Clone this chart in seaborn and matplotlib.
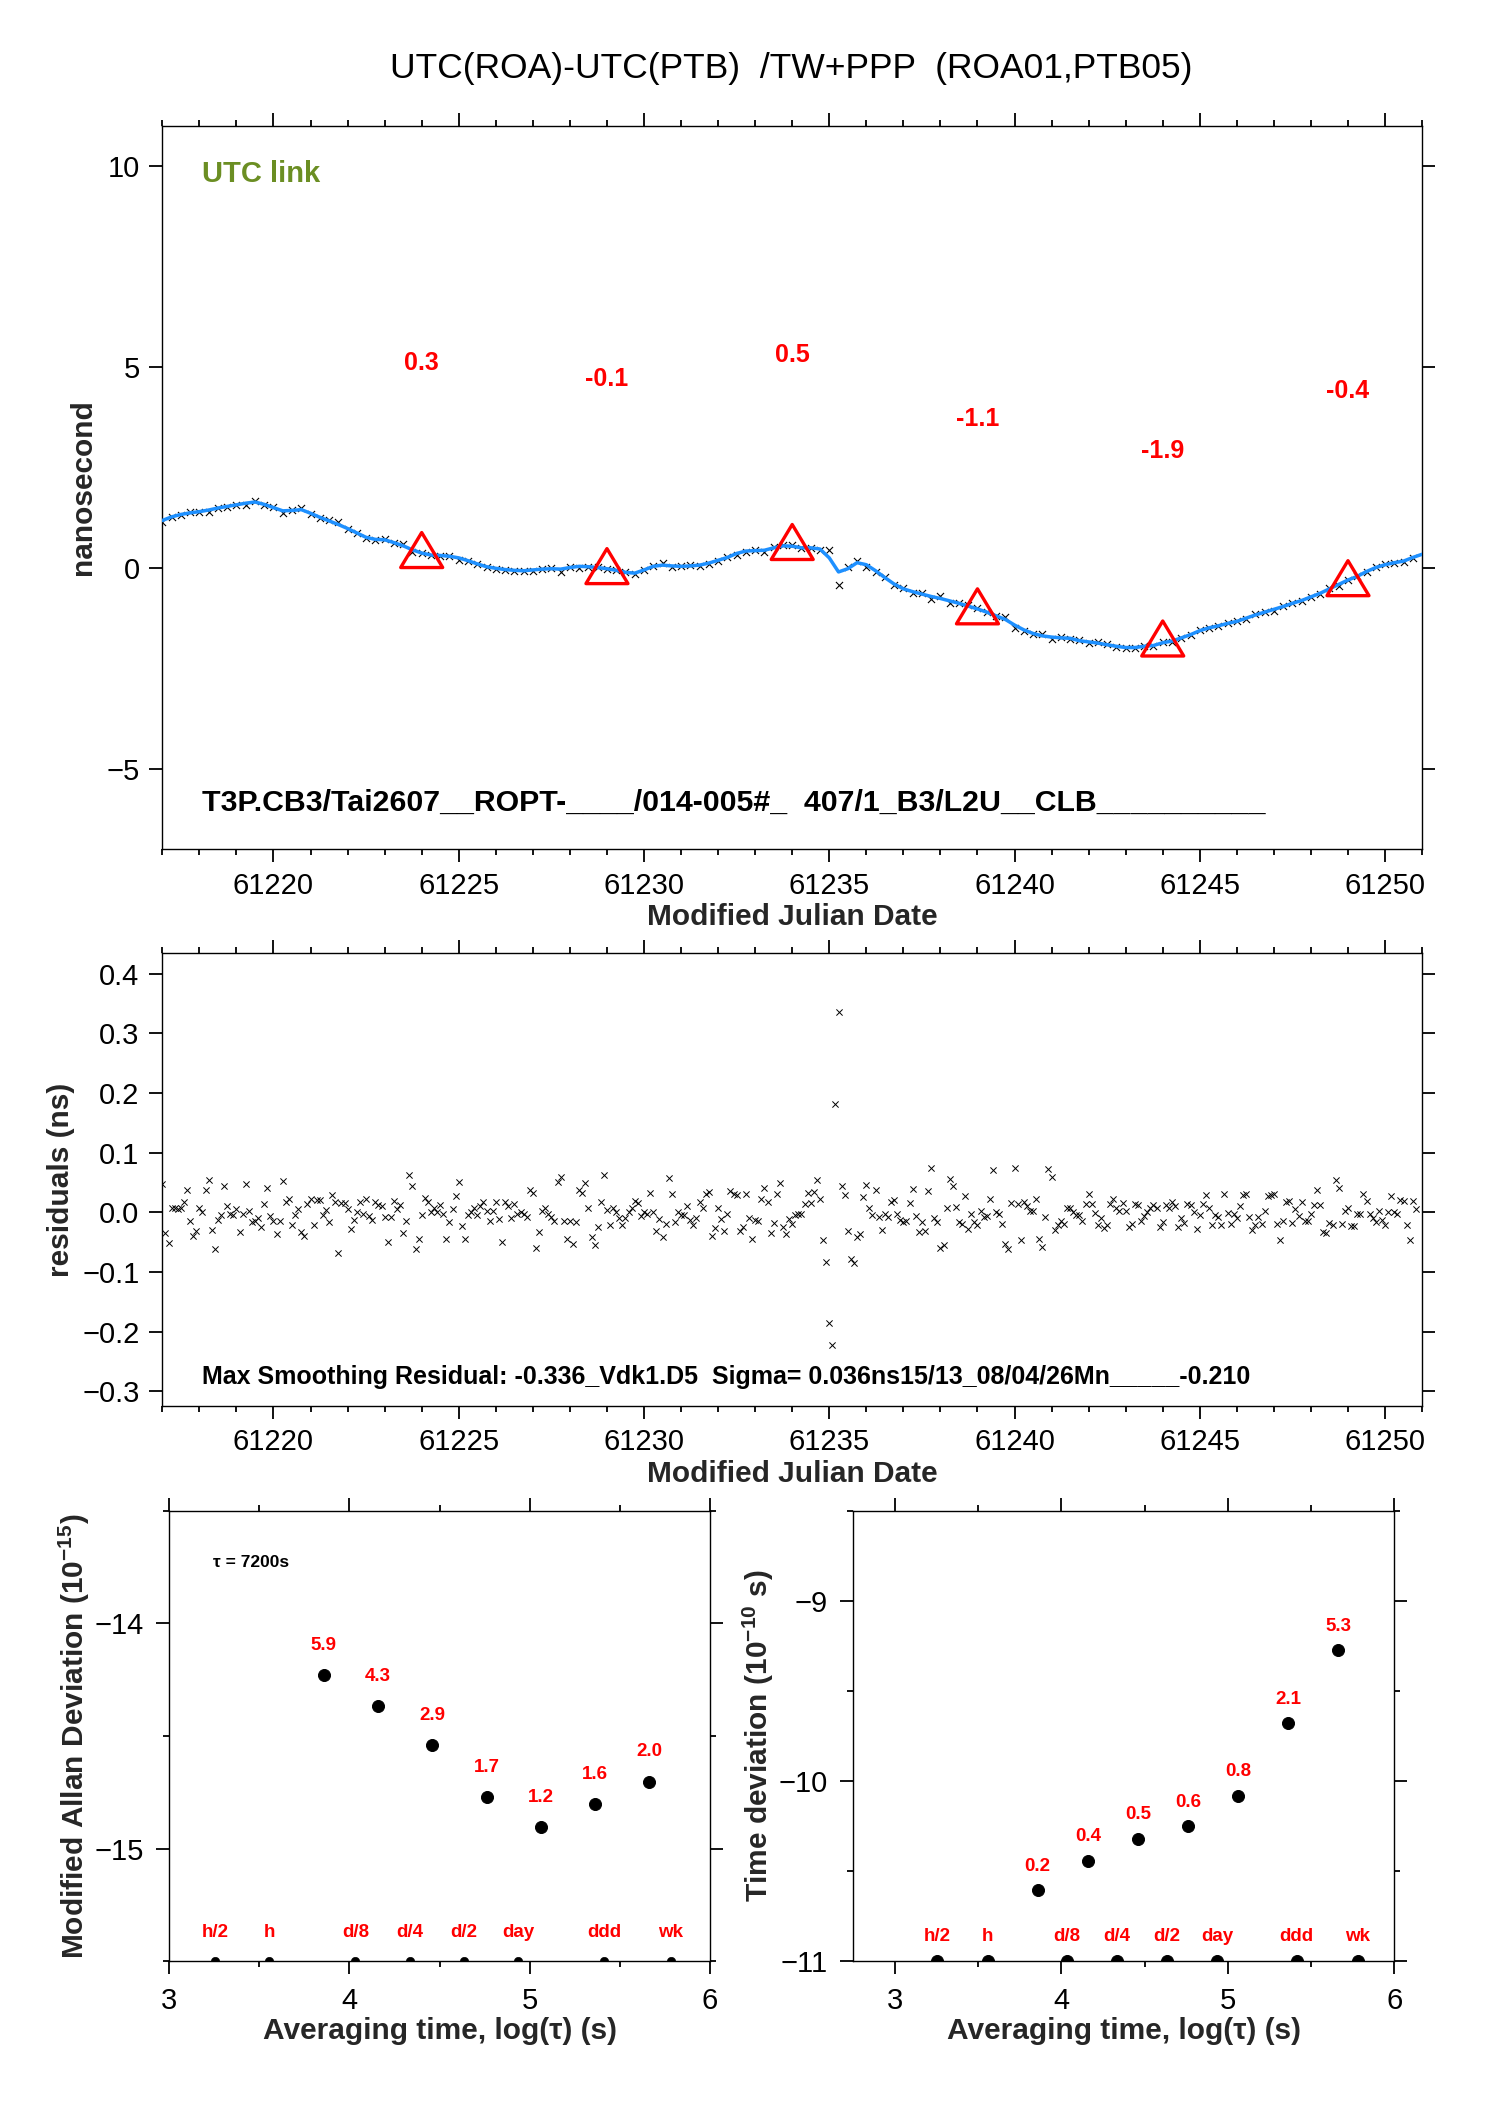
import numpy as np
import pandas as pd
import matplotlib
matplotlib.use("Agg")
import matplotlib.pyplot as plt
from matplotlib.path import Path
from matplotlib.markers import MarkerStyle
from matplotlib.ticker import MultipleLocator
import seaborn as sns

# ---------------- data ----------------
title_text = "UTC(ROA)-UTC(PTB)  /TW+PPP  (ROA01,PTB05)"
link_text = "UTC link"
info_text = "T3P.CB3/Tai2607__ROPT-____/014-005#_  407/1_B3/L2U__CLB__________"
resid_text = "Max Smoothing Residual: -0.336_Vdk1.D5  Sigma= 0.036ns15/13_08/04/26Mn_____-0.210"

mjd_start = 61217.0
smooth_step = 0.25          # days between curve nodes
resid_step = 1.0 / 12.0     # 2-hour epochs

smooth_ns = [
    1.18, 1.27, 1.33, 1.37, 1.40, 1.44, 1.49, 1.53, 1.57, 1.61, 1.64, 1.58,
    1.50, 1.42, 1.43, 1.45, 1.36, 1.26, 1.17, 1.08, 0.98, 0.87, 0.76, 0.71,
    0.70, 0.63, 0.55, 0.45, 0.37, 0.32, 0.31, 0.29, 0.25, 0.18, 0.10, 0.03,
    -0.01, -0.04, -0.06, -0.07, -0.05, -0.03, -0.02, -0.03, 0.01, 0.04, 0.03, 0.01,
    -0.02, -0.06, -0.11, -0.13, -0.05, 0.04, 0.07, 0.05, 0.04, 0.05, 0.07, 0.12,
    0.19, 0.26, 0.36, 0.42, 0.43, 0.44, 0.50, 0.55, 0.54, 0.50, 0.50, 0.47,
    0.25, -0.10, -0.02, 0.13, 0.08, -0.07, -0.24, -0.40, -0.52, -0.59, -0.65, -0.71,
    -0.76, -0.82, -0.88, -0.95, -1.02, -1.10, -1.19, -1.28, -1.42, -1.54, -1.63, -1.69,
    -1.72, -1.74, -1.75, -1.81, -1.84, -1.87, -1.91, -1.95, -1.98, -1.98, -1.95, -1.93,
    -1.86, -1.82, -1.74, -1.66, -1.56, -1.49, -1.44, -1.38, -1.33, -1.25, -1.17, -1.10,
    -1.03, -0.96, -0.88, -0.81, -0.72, -0.63, -0.52, -0.41, -0.30, -0.21, -0.09, 0.01,
    0.08, 0.13, 0.17, 0.26, 0.34,
]

resid_ns = [
    0.047, -0.034, -0.051, 0.008, 0.008, 0.006, 0.008, 0.017, 0.038, -0.014,
    -0.040, -0.031, 0.007, 0.001, 0.037, 0.055, -0.030, -0.062, -0.013, -0.005,
    0.045, 0.010, -0.003, -0.005, 0.006, -0.033, -0.002, 0.048, 0.002, -0.016,
    -0.014, -0.010, -0.024, 0.014, 0.040, -0.006, -0.014, -0.036, -0.015, 0.053,
    0.018, 0.022, -0.022, -0.004, 0.006, -0.033, -0.039, 0.014, 0.023, -0.021,
    0.020, 0.020, -0.005, 0.004, -0.016, 0.029, 0.018, -0.068, 0.015, 0.016,
    0.006, -0.028, -0.013, 0.000, 0.018, -0.003, 0.023, -0.006, -0.012, 0.017,
    0.012, 0.010, -0.008, -0.050, -0.008, 0.019, 0.006, 0.013, -0.034, -0.014,
    0.063, 0.045, -0.062, -0.045, -0.005, 0.024, 0.018, 0.001, 0.008, 0.000,
    0.012, -0.002, -0.045, -0.016, 0.006, 0.027, 0.051, -0.023, -0.044, -0.004,
    0.001, 0.007, -0.004, 0.011, 0.018, 0.003, -0.014, 0.003, 0.018, -0.011,
    -0.050, 0.017, 0.010, -0.010, 0.014, -0.002, 0.001, -0.002, -0.007, 0.037,
    0.033, -0.060, -0.033, 0.002, 0.007, -0.002, -0.008, -0.014, 0.051, 0.059,
    -0.014, -0.045, -0.014, -0.053, -0.016, 0.037, 0.032, 0.050, 0.008, -0.042,
    -0.054, -0.025, 0.017, 0.063, 0.004, -0.022, 0.007, 0.001, -0.009, -0.021,
    -0.009, 0.000, 0.007, 0.019, 0.015, -0.006, 0.000, -0.002, 0.032, 0.001,
    -0.032, -0.011, -0.041, -0.020, 0.058, 0.031, -0.016, 0.000, -0.005, -0.005,
    0.010, -0.012, -0.022, -0.010, 0.018, 0.007, 0.031, 0.034, -0.039, -0.027,
    0.007, -0.011, -0.031, -0.003, 0.035, 0.031, 0.029, -0.031, -0.024, 0.031,
    -0.009, -0.045, -0.012, -0.014, 0.023, 0.041, 0.018, -0.035, -0.018, 0.030,
    0.050, -0.025, -0.037, -0.011, -0.020, -0.005, -0.003,
    -0.002, 0.014, 0.033, 0.016, 0.034, 0.054, 0.022, -0.047, -0.084, -0.185,
    -0.223, 0.181, 0.335, 0.044, 0.029, -0.031, -0.078, -0.085, -0.041, -0.036,
    0.025, 0.046, 0.007, -0.005, 0.038, -0.008, -0.030, -0.003, -0.008, 0.018,
    0.020, -0.002, -0.012, -0.016, -0.014, 0.016, 0.039, -0.006, -0.033, -0.016,
    -0.031, 0.035, 0.074, -0.010, -0.016, -0.060, -0.054, 0.007, 0.056, 0.044,
    0.009, -0.016, -0.019, 0.027, -0.028, -0.002, -0.016, -0.021, 0.002, -0.007,
    -0.006, 0.023, 0.071, 0.000, -0.002, -0.019, -0.053, -0.061, 0.016, 0.075,
    0.014, -0.047, 0.018, 0.010, 0.003, 0.003, 0.022, -0.044, -0.058, -0.008,
    0.073, 0.059, -0.030, -0.021, -0.015, -0.020, 0.008, 0.008, 0.000, -0.005,
    -0.005, -0.014, 0.014, 0.031, 0.014, -0.001, -0.021, -0.010, -0.027, -0.021,
    0.014, 0.023, 0.007, 0.003, 0.016, 0.002, -0.024, -0.020, 0.014, 0.013,
    -0.014, -0.006, 0.001, 0.008, 0.012, 0.008, -0.025, -0.016, 0.012, 0.008,
    0.018, 0.010, -0.024, -0.009, -0.018, 0.014, 0.012, 0.001, -0.028, -0.004,
    0.014, 0.029, 0.007, -0.022, -0.005, -0.008, -0.021, 0.031, -0.001, -0.020,
    -0.002, -0.010, 0.010, 0.029, 0.031, -0.007, -0.029, -0.021, -0.007, -0.020,
    0.002, 0.028, 0.029, 0.030, -0.020, -0.046, -0.014, 0.017, 0.019, -0.018,
    0.006, -0.006, 0.018, -0.014, -0.014, -0.003, 0.013, 0.037, 0.012, -0.033,
    -0.034, -0.018, -0.021, 0.054, 0.041, -0.019, 0.003, 0.007, -0.023, -0.023,
    -0.002, -0.003, 0.031, 0.019, -0.002, -0.010, -0.016, 0.003, -0.012, -0.022,
    0.001, 0.027, 0.000, -0.002, 0.020, 0.019, -0.021, -0.046, 0.019, 0.006,
]

tri_mjd = [61224, 61229, 61234, 61239, 61244, 61249]
tri_ns = [0.3, -0.1, 0.5, -1.1, -1.9, -0.4]

adev_tau = [7200, 14400, 28800, 57600, 115200, 230400, 460800]
mdev_e15 = [5.89, 4.28, 2.87, 1.69, 1.24, 1.57, 1.98]
tdev_e10 = [0.247, 0.361, 0.478, 0.562, 0.828, 2.10, 5.32]

mark_names = ["h/2", "h", "d/8", "d/4", "d/2", "day", "ddd", "wk"]
mark_tau = [1800, 3600, 10800, 21600, 43200, 86400, 259200, 604800]

# ---------------- derived tables ----------------
smooth_mjd = mjd_start + smooth_step * np.arange(len(smooth_ns))
resid_mjd = mjd_start + resid_step * np.arange(len(resid_ns))
resid_arr = np.array(resid_ns)
sub = resid_arr[::3]
n_raw = min(len(sub), len(smooth_ns))
raw_df = pd.DataFrame({"mjd": smooth_mjd[:n_raw],
                       "ns": np.array(smooth_ns[:n_raw]) - sub[:n_raw]})
smooth_df = pd.DataFrame({"mjd": smooth_mjd, "ns": smooth_ns})
resid_df = pd.DataFrame({"mjd": resid_mjd, "ns": resid_ns})
tri_df = pd.DataFrame({"mjd": tri_mjd, "ns": tri_ns})
ad_df = pd.DataFrame({"lt": np.log10(adev_tau),
                      "mdev": np.log10(np.array(mdev_e15) * 1e-15),
                      "tdev": np.log10(np.array(tdev_e10) * 1e-10)})
mk_lt = np.log10(mark_tau)

# ---------------- style ----------------
sns.set_theme(style="ticks")
plt.rcParams['font.family'] = ['Liberation Sans', 'DejaVu Sans']
plt.rcParams['mathtext.fontset'] = 'custom'
plt.rcParams['mathtext.rm'] = 'Liberation Sans'
plt.rcParams['mathtext.bf'] = 'Liberation Sans:bold'
plt.rcParams['axes.edgecolor'] = 'black'
plt.rcParams['axes.linewidth'] = 1.0

RED = '#ff0000'
BLUE = '#1e90ff'
OLIVE = '#6b8e23'
TICK = 21
LAB = 21.5

fig = plt.figure(figsize=(14.88, 21.05), dpi=100)
ax1 = fig.add_axes([0.1091, 0.5965, 0.8466, 0.3438])
ax2 = fig.add_axes([0.1091, 0.3322, 0.8466, 0.2149])
ax3 = fig.add_axes([0.1136, 0.0684, 0.3636, 0.2138])
ax4 = fig.add_axes([0.5735, 0.0684, 0.3636, 0.2138])


def style(ax, pad=7):
    for s in ax.spines.values():
        s.set_color('black')
        s.set_linewidth(1.0)
    ax.tick_params(which='both', direction='out', top=True, right=True,
                   labeltop=False, labelright=False, colors='black',
                   labelsize=TICK, width=1.3, pad=pad)
    ax.tick_params(which='major', length=9.4)
    ax.tick_params(which='minor', length=4.3)
    ax.set_facecolor('white')


# ---- top panel ----
sns.scatterplot(data=raw_df, x="mjd", y="ns", ax=ax1, marker='x', color='black',
                s=26, linewidth=0.8, legend=False, zorder=2)
sns.lineplot(data=smooth_df, x="mjd", y="ns", ax=ax1, color=BLUE, lw=2.5,
             estimator=None, sort=False, legend=False, zorder=3)
tri_path = Path([(0, 1), (-0.9, -0.5), (0.9, -0.5), (0, 1)],
                [Path.MOVETO, Path.LINETO, Path.LINETO, Path.CLOSEPOLY])
sns.scatterplot(data=tri_df, x="mjd", y="ns", ax=ax1, marker=MarkerStyle(tri_path),
                s=33.6 ** 2, facecolor='none', edgecolor=RED, linewidth=2.4,
                legend=False, zorder=4)
for xm, v in zip(tri_mjd, tri_ns):
    ax1.annotate(f"{v:.1f}", (xm, v), xytext=(0, 139), textcoords='offset points',
                 ha='center', va='center', color=RED, fontsize=18, fontweight='bold')
ax1.set_xlim(61217, 61251)
ax1.set_ylim(-7, 11)
ax1.xaxis.set_major_locator(MultipleLocator(5))
ax1.xaxis.set_minor_locator(MultipleLocator(1))
ax1.yaxis.set_major_locator(MultipleLocator(5))
style(ax1)
ax1.set_xlabel("Modified Julian Date", fontsize=LAB, fontweight='bold', labelpad=2)
ax1.set_ylabel("nanosecond", fontsize=LAB, fontweight='bold', labelpad=7)
ax1.text(0.0315, 0.933, link_text, transform=ax1.transAxes, color=OLIVE,
         fontsize=21, fontweight='bold', ha='left', va='center')
ax1.text(0.0315, 0.064, info_text, transform=ax1.transAxes, color='black',
         fontsize=21.8, fontweight='bold', ha='left', va='center')

# ---- residual panel ----
sns.scatterplot(data=resid_df, x="mjd", y="ns", ax=ax2, marker='x', color='black',
                s=20, linewidth=0.7, legend=False)
ax2.set_xlim(61217, 61251)
ax2.set_ylim(-0.324, 0.434)
ax2.xaxis.set_major_locator(MultipleLocator(5))
ax2.xaxis.set_minor_locator(MultipleLocator(1))
ax2.yaxis.set_major_locator(MultipleLocator(0.1))
style(ax2)
ax2.set_xlabel("Modified Julian Date", fontsize=LAB, fontweight='bold', labelpad=2.5)
ax2.set_ylabel("residuals (ns)", fontsize=LAB, fontweight='bold', labelpad=5)
ax2.text(0.0315, 0.064, resid_text, transform=ax2.transAxes, color='black',
         fontsize=18, fontweight='bold', ha='left', va='center')

# ---- Allan deviation panel ----
sns.scatterplot(data=ad_df, x="lt", y="mdev", ax=ax3, color='black', s=75,
                edgecolor='black', legend=False, zorder=3)
for xl, yl, v in zip(ad_df["lt"], ad_df["mdev"], mdev_e15):
    ax3.text(xl, yl + 0.133, f"{v:.1f}", color=RED, fontsize=13.5,
             fontweight='bold', ha='center', va='center')
sns.scatterplot(x=mk_lt, y=[-15.5] * len(mk_lt), ax=ax3, color='black', s=36,
                edgecolor='black', legend=False, zorder=3)
for xl, nm in zip(mk_lt, mark_names):
    ax3.text(xl, -15.5 + 0.125, nm, color=RED, fontsize=13.5,
             fontweight='bold', ha='center', va='center')
ax3.text(3.244, -13.73, "τ = 7200s", fontsize=12.5, fontweight='bold',
         ha='left', va='center', color='black')
ax3.set_xlim(3, 6)
ax3.set_ylim(-15.5, -13.5)
ax3.xaxis.set_major_locator(MultipleLocator(1))
ax3.xaxis.set_minor_locator(MultipleLocator(0.5))
ax3.yaxis.set_major_locator(MultipleLocator(1))
ax3.yaxis.set_minor_locator(MultipleLocator(0.5))
style(ax3, pad=9)
ax3.set_xlabel(r"Averaging time, log(τ) (s)", fontsize=LAB, fontweight='bold', labelpad=1.5)
ax3.set_ylabel(r"Modified Allan Deviation (10$^{\mathbf{-15}}$)", fontsize=LAB,
               fontweight='bold', labelpad=1.5)

# ---- time deviation panel ----
sns.scatterplot(data=ad_df, x="lt", y="tdev", ax=ax4, color='black', s=75,
                edgecolor='black', legend=False, zorder=3)
for xl, yl, v in zip(ad_df["lt"], ad_df["tdev"], tdev_e10):
    ax4.text(xl, yl + 0.133, f"{v:.1f}", color=RED, fontsize=13.5,
             fontweight='bold', ha='center', va='center')
sns.scatterplot(x=mk_lt, y=[-11.0] * len(mk_lt), ax=ax4, color='black', s=75,
                edgecolor='black', legend=False, zorder=3)
for xl, nm in zip(mk_lt, mark_names):
    ax4.text(xl, -11.0 + 0.137, nm, color=RED, fontsize=13.5,
             fontweight='bold', ha='center', va='center')
ax4.set_xlim(2.75, 6)
ax4.set_ylim(-11, -8.5)
ax4.xaxis.set_major_locator(MultipleLocator(1))
ax4.xaxis.set_minor_locator(MultipleLocator(0.5))
ax4.yaxis.set_major_locator(MultipleLocator(1))
ax4.yaxis.set_minor_locator(MultipleLocator(0.5))
style(ax4, pad=9)
ax4.set_xlabel(r"Averaging time, log(τ) (s)", fontsize=LAB, fontweight='bold', labelpad=1.5)
ax4.set_ylabel(r"Time deviation (10$^{\mathbf{-10}}$ s)", fontsize=LAB,
               fontweight='bold', labelpad=1.5)

fig.text(0.532, 0.9628, title_text, ha='center', va='baseline', fontsize=25.5,
         color='black')

fig.savefig("out.png", dpi=100, facecolor='white')
